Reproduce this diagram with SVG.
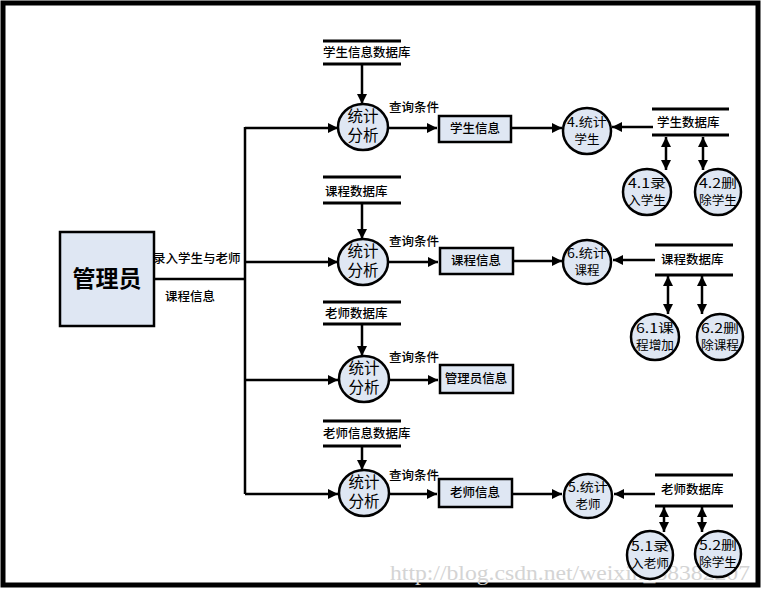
<svg xmlns="http://www.w3.org/2000/svg" width="762" height="592" viewBox="0 0 762 592">
<style>
.t{font-family:"Noto Sans CJK SC","Noto Sans",sans-serif;fill:#000}
.s{font-size:12.5px;font-weight:500}
.c{font-size:15.5px;text-anchor:middle}
.cs{font-size:12.5px;text-anchor:middle}
.ln{stroke:#000;stroke-width:2.5;fill:none}
.db{stroke:#000;stroke-width:3}
.nd{fill:#dfe7f3;stroke:#000;stroke-width:2.5}
.bx{fill:#dfe7f3;stroke:#000;stroke-width:2.5}
</style>
<defs>
<marker id="ah" viewBox="0 0 10 10" refX="10" refY="5" markerWidth="11" markerHeight="10" markerUnits="userSpaceOnUse" orient="auto-start-reverse"><path d="M0,0 L10,5 L0,10 z" fill="#000"/></marker>
</defs>
<rect x="0" y="0" width="762" height="592" fill="#fff"/>
<rect x="3" y="3" width="755" height="582" fill="none" stroke="#000" stroke-width="5"/>
<text x="390" y="580" font-family="Liberation Serif,serif" font-size="21" fill="#d4d4d4" textLength="360" lengthAdjust="spacingAndGlyphs">http://blog.csdn.net/weixin_38382207</text>

<g id="connectors">
<line class="ln" x1="155" y1="279" x2="245" y2="279"/>
<line class="ln" x1="245" y1="127" x2="245" y2="494"/>
<line class="ln" x1="245" y1="128" x2="338" y2="128" marker-end="url(#ah)"/>
<line class="ln" x1="245" y1="262" x2="338" y2="262" marker-end="url(#ah)"/>
<line class="ln" x1="245" y1="380" x2="338" y2="380" marker-end="url(#ah)"/>
<line class="ln" x1="245" y1="494" x2="338" y2="494" marker-end="url(#ah)"/>
<line class="ln" x1="362" y1="64" x2="362" y2="104" marker-end="url(#ah)"/>
<line class="ln" x1="362" y1="204" x2="362" y2="239" marker-end="url(#ah)"/>
<line class="ln" x1="362" y1="325" x2="362" y2="356" marker-end="url(#ah)"/>
<line class="ln" x1="362" y1="446" x2="362" y2="470" marker-end="url(#ah)"/>
<line class="ln" x1="388" y1="128" x2="437" y2="128" marker-end="url(#ah)"/>
<line class="ln" x1="388" y1="262" x2="438" y2="262" marker-end="url(#ah)"/>
<line class="ln" x1="389" y1="380" x2="438" y2="380" marker-end="url(#ah)"/>
<line class="ln" x1="389" y1="494" x2="437" y2="494" marker-end="url(#ah)"/>
<line class="ln" x1="511" y1="128" x2="562" y2="128" marker-end="url(#ah)"/>
<line class="ln" x1="513" y1="261" x2="562" y2="261" marker-end="url(#ah)"/>
<line class="ln" x1="513" y1="494" x2="562" y2="494" marker-end="url(#ah)"/>
<line class="ln" x1="653" y1="127" x2="612" y2="127" marker-end="url(#ah)"/>
<line class="ln" x1="655" y1="260" x2="613" y2="260" marker-end="url(#ah)"/>
<line class="ln" x1="655" y1="494" x2="614" y2="494" marker-end="url(#ah)"/>
<line class="ln" x1="666" y1="137" x2="666" y2="170" marker-start="url(#ah)" marker-end="url(#ah)"/>
<line class="ln" x1="703" y1="137" x2="703" y2="170" marker-start="url(#ah)" marker-end="url(#ah)"/>
<line class="ln" x1="668" y1="276" x2="668" y2="314" marker-start="url(#ah)" marker-end="url(#ah)"/>
<line class="ln" x1="702" y1="276" x2="702" y2="314" marker-start="url(#ah)" marker-end="url(#ah)"/>
<line class="ln" x1="664" y1="507" x2="664" y2="532" marker-start="url(#ah)" marker-end="url(#ah)"/>
<line class="ln" x1="702" y1="507" x2="702" y2="532" marker-start="url(#ah)" marker-end="url(#ah)"/>
</g>

<g id="labels">
<text class="t s" x="153" y="263">录入学生与老师</text>
<text class="t s" x="165" y="301">课程信息</text>
<text class="t s" x="389" y="112">查询条件</text>
<text class="t s" x="389" y="246">查询条件</text>
<text class="t s" x="389" y="362">查询条件</text>
<text class="t s" x="389" y="480">查询条件</text>
</g>

<g id="admin">
<rect x="60" y="232" width="94" height="94" fill="#dfe7f3" stroke="#000" stroke-width="2.5"/>
<text class="t" x="107" y="287" font-size="23" font-weight="bold" text-anchor="middle">管理员</text>
</g>

<g id="db-student-info">
<line class="db" x1="323" y1="41" x2="401" y2="41"/>
<line class="db" x1="323" y1="64" x2="401" y2="64"/>
<text class="t s" x="323" y="57">学生信息数据库</text>
</g>
<g id="db-course">
<line class="db" x1="323" y1="177" x2="401" y2="177"/>
<line class="db" x1="323" y1="203" x2="401" y2="203"/>
<text class="t s" x="325" y="196">课程数据库</text>
</g>
<g id="db-teacher">
<line class="db" x1="323" y1="302" x2="401" y2="302"/>
<line class="db" x1="323" y1="324" x2="401" y2="324"/>
<text class="t s" x="325" y="318">老师数据库</text>
</g>
<g id="db-teacher-info">
<line class="db" x1="323" y1="421" x2="401" y2="421"/>
<line class="db" x1="323" y1="446" x2="401" y2="446"/>
<text class="t s" x="323" y="438">老师信息数据库</text>
</g>

<g id="p1"><ellipse class="nd" cx="363" cy="127" rx="25" ry="23"/><text class="t c" x="363" y="122">统计</text><text class="t c" x="363" y="141">分析</text></g>
<g id="p2"><ellipse class="nd" cx="363" cy="262" rx="25" ry="23"/><text class="t c" x="363" y="257">统计</text><text class="t c" x="363" y="276">分析</text></g>
<g id="p3"><ellipse class="nd" cx="364" cy="379" rx="25" ry="23"/><text class="t c" x="364" y="374">统计</text><text class="t c" x="364" y="393">分析</text></g>
<g id="p4"><ellipse class="nd" cx="364" cy="493" rx="25" ry="23"/><text class="t c" x="364" y="488">统计</text><text class="t c" x="364" y="507">分析</text></g>

<g id="box-student"><rect class="bx" x="439" y="116" width="72" height="26"/><text class="t s" x="475" y="133" text-anchor="middle">学生信息</text></g>
<g id="box-course"><rect class="bx" x="440" y="248" width="73" height="26"/><text class="t s" x="476" y="265" text-anchor="middle">课程信息</text></g>
<g id="box-admin"><rect class="bx" x="440" y="365" width="73" height="28"/><text class="t s" x="476" y="383" text-anchor="middle">管理员信息</text></g>
<g id="box-teacher"><rect class="bx" x="439" y="479" width="73" height="28"/><text class="t s" x="475" y="497" text-anchor="middle">老师信息</text></g>

<g id="p4-stat"><ellipse class="nd" cx="587" cy="131" rx="24" ry="23"/><text class="t cs" x="587" y="127" textLength="40" lengthAdjust="spacingAndGlyphs">4.统计</text><text class="t cs" x="587" y="144">学生</text></g>
<g id="p6-stat"><ellipse class="nd" cx="587" cy="262" rx="24" ry="22"/><text class="t cs" x="587" y="258" textLength="40" lengthAdjust="spacingAndGlyphs">6.统计</text><text class="t cs" x="587" y="275">课程</text></g>
<g id="p5-stat"><ellipse class="nd" cx="588" cy="496" rx="24" ry="22"/><text class="t cs" x="588" y="492" textLength="40" lengthAdjust="spacingAndGlyphs">5.统计</text><text class="t cs" x="588" y="509">老师</text></g>

<g id="db-student">
<line class="db" x1="652" y1="109" x2="729" y2="109"/>
<line class="db" x1="652" y1="135" x2="729" y2="135"/>
<text class="t s" x="657" y="127">学生数据库</text>
</g>
<g id="db-course2">
<line class="db" x1="655" y1="245" x2="733" y2="245"/>
<line class="db" x1="655" y1="275" x2="733" y2="275"/>
<text class="t s" x="661" y="264">课程数据库</text>
</g>
<g id="db-teacher2">
<line class="db" x1="655" y1="475" x2="733" y2="475"/>
<line class="db" x1="655" y1="506" x2="733" y2="506"/>
<text class="t s" x="661" y="494">老师数据库</text>
</g>

<g id="p41"><ellipse class="nd" cx="647" cy="192" rx="24" ry="23"/><text class="t cs" x="647" y="188" textLength="38" lengthAdjust="spacingAndGlyphs">4.1录</text><text class="t cs" x="647" y="205" textLength="38" lengthAdjust="spacingAndGlyphs">入学生</text></g>
<g id="p42"><ellipse class="nd" cx="718" cy="192" rx="23" ry="23"/><text class="t cs" x="718" y="188" textLength="38" lengthAdjust="spacingAndGlyphs">4.2删</text><text class="t cs" x="718" y="205" textLength="38" lengthAdjust="spacingAndGlyphs">除学生</text></g>
<g id="p61"><ellipse class="nd" cx="655" cy="337" rx="24" ry="23"/><text class="t cs" x="655" y="333" textLength="38" lengthAdjust="spacingAndGlyphs">6.1课</text><text class="t cs" x="655" y="350" textLength="38" lengthAdjust="spacingAndGlyphs">程增加</text></g>
<g id="p62"><ellipse class="nd" cx="720" cy="337" rx="23" ry="23"/><text class="t cs" x="720" y="333" textLength="38" lengthAdjust="spacingAndGlyphs">6.2删</text><text class="t cs" x="720" y="350" textLength="38" lengthAdjust="spacingAndGlyphs">除课程</text></g>
<g id="p51"><ellipse class="nd" cx="650" cy="555" rx="23" ry="24"/><text class="t cs" x="650" y="551" textLength="38" lengthAdjust="spacingAndGlyphs">5.1录</text><text class="t cs" x="650" y="568" textLength="38" lengthAdjust="spacingAndGlyphs">入老师</text></g>
<g id="p52"><ellipse class="nd" cx="718" cy="554" rx="23" ry="23"/><text class="t cs" x="718" y="550" textLength="38" lengthAdjust="spacingAndGlyphs">5.2删</text><text class="t cs" x="718" y="567" textLength="38" lengthAdjust="spacingAndGlyphs">除学生</text></g>
</svg>
